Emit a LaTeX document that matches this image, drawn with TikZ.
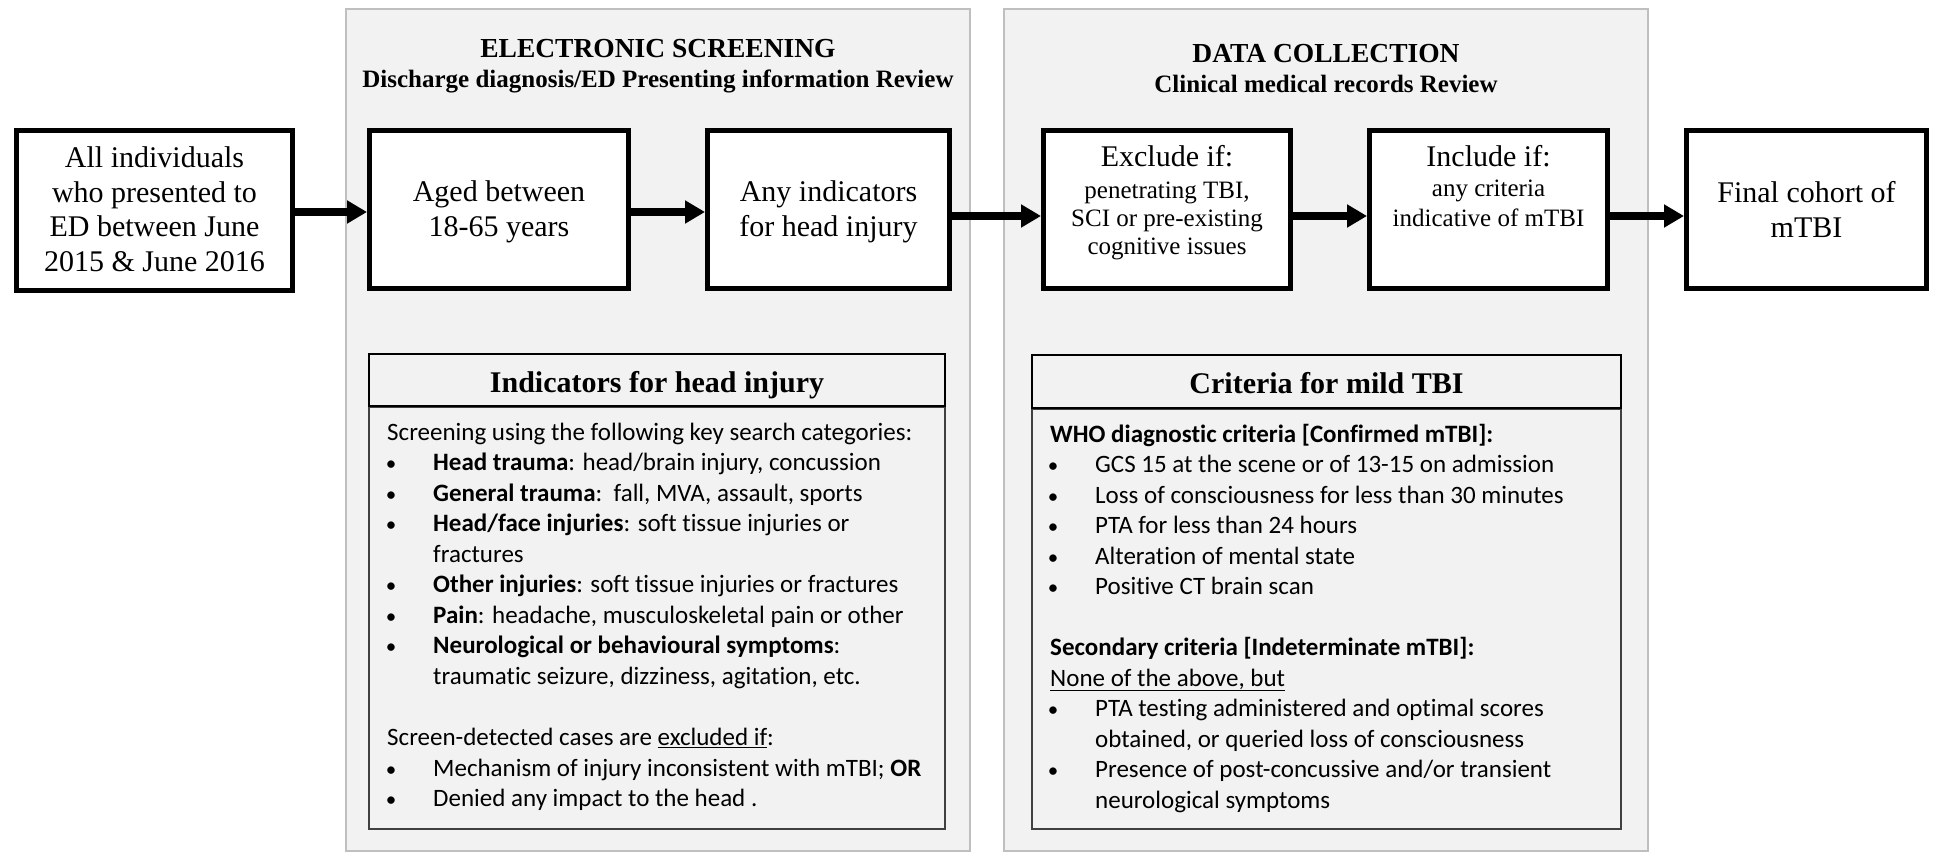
\documentclass[tikz,border=0pt]{standalone}
\usepackage{fontspec}
\setmainfont{Liberation Serif}
\newfontfamily\calibri[Ligatures=NoCommon]{Carlito}
\usetikzlibrary{arrows.meta}
\definecolor{panelfill}{HTML}{F2F2F2}
\definecolor{panelline}{HTML}{BFBFBF}
\definecolor{bodyline}{HTML}{404040}
\tikzset{
 panel/.style={draw=panelline, line width=2pt, fill=panelfill, inner sep=0pt},
 stepbox/.style={draw=black, line width=5pt, fill=white, inner sep=0pt},
 flow/.style={line width=8pt, -{Triangle[length=20pt,width=22pt]}},
 ttl/.style={anchor=base, inner sep=0pt, font=\bfseries\fontsize{27.5}{30}\selectfont},
 subttl/.style={anchor=base, inner sep=0pt, font=\bfseries\fontsize{25}{28}\selectfont},
 hdrtxt/.style={anchor=base, inner sep=0pt, font=\bfseries\fontsize{30}{34}\selectfont},
 hdrbox/.style={draw=black, line width=2.2pt, inner sep=0pt},
 listbox/.style={draw=bodyline, line width=1.5pt, inner sep=0pt},
 body/.style={anchor=base west, inner sep=0pt, font=\calibri\fontsize{25}{30.5}\selectfont},
 bul/.style={anchor=base, inner sep=0pt, font=\calibri\fontsize{21}{30.5}\selectfont},
 smalltxt/.style={anchor=base, inner sep=0pt, font=\fontsize{25}{28}\selectfont},
 bigtxt/.style={anchor=base, inner sep=0pt, font=\fontsize{30}{35}\selectfont},
}
\newcommand\txtline[4]{\node[body] (#1) at (#2,#3) {#4};}
\newcommand\bulline[5]{\node[bul] (#1b) at (#2,#4) {\textbullet}; \node[body] (#1) at (#3,#4) {#5};}
\begin{document}
\begin{tikzpicture}[x=1pt,y=-1pt]
\useasboundingbox[fill=white] (0,0) rectangle (1934,858);

% panels
\node[panel, minimum width=624pt, minimum height=842pt] (pL) at (658,430) {};
\node[panel, minimum width=644pt, minimum height=842pt] (pR) at (1326,430) {};

% panel titles
\node[ttl] (tL) at (658,58) {ELECTRONIC SCREENING};
\node[subttl] (sL) at (658,88) {Discharge diagnosis/ED Presenting information Review};
\node[ttl] (tR) at (1326,63) {DATA COLLECTION};
\node[subttl] (sR) at (1326,93) {Clinical medical records Review};

% flow boxes
\node[stepbox, minimum width=276pt, minimum height=160pt] (b1) at (154.5,210.5) {};
\node[stepbox, minimum width=259pt, minimum height=158pt] (b2) at (499,209.5) {};
\node[stepbox, minimum width=242pt, minimum height=158pt] (b3) at (828.5,209.5) {};
\node[stepbox, minimum width=247pt, minimum height=158pt] (b4) at (1167,209.5) {};
\node[stepbox, minimum width=238pt, minimum height=158pt] (b5) at (1488.5,209.5) {};
\node[stepbox, minimum width=240pt, minimum height=158pt] (b6) at (1806.5,209.5) {};

\node[bigtxt] (b1a) at (154.5,168) {All individuals};
\node[bigtxt] (b1b) at (154.5,203) {who presented to};
\node[bigtxt] (b1c) at (154.5,237) {ED between June};
\node[bigtxt] (b1d) at (154.5,272) {2015 \& June 2016};

\node[bigtxt] (b2a) at (499,202) {Aged between};
\node[bigtxt] (b2b) at (499,237) {18-65 years};

\node[bigtxt] (b3a) at (828.5,202) {Any indicators};
\node[bigtxt] (b3b) at (828.5,237) {for head injury};

\node[bigtxt] (b4a) at (1167,167) {Exclude if:};
\node[smalltxt] (b4b) at (1167,199) {penetrating TBI,};
\node[smalltxt] (b4c) at (1167,227) {SCI or pre-existing};
\node[smalltxt] (b4d) at (1167,255) {cognitive issues};

\node[bigtxt] (b5a) at (1488.5,167) {Include if:};
\node[smalltxt] (b5b) at (1488.5,197) {any criteria};
\node[smalltxt] (b5c) at (1488.5,227) {indicative of mTBI};

\node[bigtxt] (b6a) at (1806.5,203) {Final cohort of};
\node[bigtxt] (b6b) at (1806.5,238) {mTBI};

% arrows
\draw[flow] ([yshift=-1.5pt]b1.east) -- ([yshift=-2.5pt]b2.west);
\draw[flow] ([yshift=-2.5pt]b2.east) -- ([yshift=-2.5pt]b3.west);
\draw[flow] ([yshift=-6.5pt]b3.east) -- ([yshift=-6.5pt]b4.west);
\draw[flow] ([yshift=-6.5pt]b4.east) -- ([yshift=-6.5pt]b5.west);
\draw[flow] ([yshift=-6.5pt]b5.east) -- ([yshift=-6.5pt]b6.west);

% Indicators box
\node[listbox, minimum width=576pt, minimum height=422pt] (indB) at (657,618) {};
\node[hdrbox, minimum width=576pt, minimum height=52pt] (indH) at (657,380) {};
\node[hdrtxt] (indT) at (657,392) {Indicators for head injury};

\txtline{i0}{387}{440}{Screening using the following key search categories:}
\bulline{i1}{391}{433}{470.6}{\textbf{Head trauma}: head/brain injury, concussion}
\bulline{i2}{391}{433}{501.1}{\textbf{General trauma}:\ \ fall, MVA, assault, sports}
\bulline{i3}{391}{433}{531.7}{\textbf{Head/face injuries}: soft tissue injuries or}
\txtline{i4}{433}{562.2}{fractures}
\bulline{i5}{391}{433}{592.8}{\textbf{Other injuries}: soft tissue injuries or fractures}
\bulline{i6}{391}{433}{623.4}{\textbf{Pain}: headache, musculoskeletal pain or other}
\bulline{i7}{391}{433}{653.9}{\textbf{Neurological or behavioural symptoms}:}
\txtline{i8}{433}{684.5}{traumatic seizure, dizziness, agitation, etc.}
\txtline{i10}{387}{745.6}{Screen-detected cases are \underline{excluded if}:}
\bulline{i11}{391}{433}{776.2}{Mechanism of injury inconsistent with mTBI; \textbf{OR}}
\bulline{i12}{391}{433}{806.7}{Denied any impact to the head .}

% Criteria box
\node[listbox, minimum width=589pt, minimum height=420pt] (criB) at (1326.5,619) {};
\node[hdrbox, minimum width=589pt, minimum height=53pt] (criH) at (1326.5,381.5) {};
\node[hdrtxt] (criT) at (1326.5,393) {Criteria for mild TBI};

\txtline{c0}{1050}{442}{\textbf{WHO diagnostic criteria [Confirmed mTBI]:}}
\bulline{c1}{1053}{1095}{472.5}{GCS 15 at the scene or of 13-15 on admission}
\bulline{c2}{1053}{1095}{503}{Loss of consciousness for less than 30 minutes}
\bulline{c3}{1053}{1095}{533.5}{PTA for less than 24 hours}
\bulline{c4}{1053}{1095}{564}{Alteration of mental state}
\bulline{c5}{1053}{1095}{594.5}{Positive CT brain scan}
\txtline{c7}{1050}{655.5}{\textbf{Secondary criteria [Indeterminate mTBI]:}}
\txtline{c8}{1050}{686}{\underline{None of the above, but}}
\bulline{c9}{1053}{1095}{716.5}{PTA testing administered and optimal scores}
\txtline{c10}{1095}{747}{obtained, or queried loss of consciousness}
\bulline{c11}{1053}{1095}{777.5}{Presence of post-concussive and/or transient}
\txtline{c12}{1095}{808}{neurological symptoms}
\end{tikzpicture}
\end{document}
